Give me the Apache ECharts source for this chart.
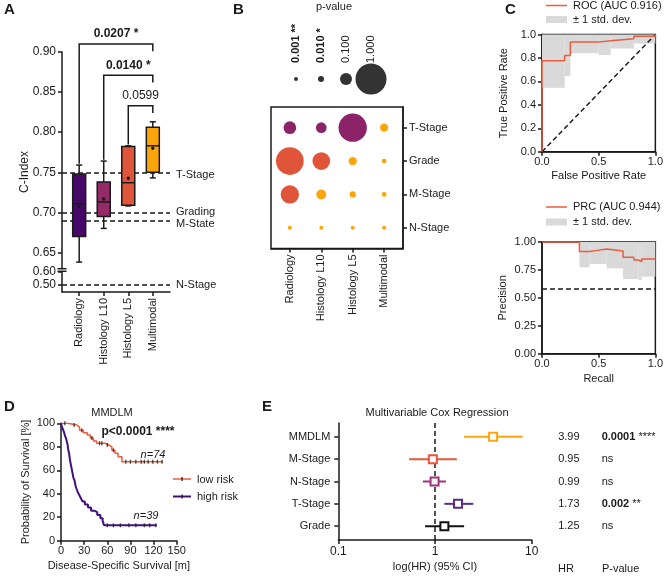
<!DOCTYPE html>
<html>
<head>
<meta charset="utf-8">
<script src="https://cdn.jsdelivr.net/npm/echarts@6/dist/echarts.min.js"></script>
<style>
  html, body { margin: 0; padding: 0; background: #fff; }
  #chart { width: 666px; height: 576px; }
</style>
</head>
<body>
<div id="chart"></div>
<script>
const FONT = '"Liberation Sans", Arial, sans-serif'
const INK = '#1a1a1a'

// --- A: C-index per model, box stats [min, q1, median, q3, max]
const models = ['Radiology', 'Histology L10', 'Histology L5', 'Multimodal']
const boxStats = [
  [0.638, 0.670, 0.711, 0.748, 0.759],
  [0.680, 0.695, 0.713, 0.738, 0.764],
  [0.708, 0.709, 0.737, 0.782, 0.783],
  [0.743, 0.750, 0.783, 0.806, 0.813],
]
const boxMeans = [0.7075, 0.7167, 0.7425, 0.780]
const clinicalNames = ['T-Stage', 'Grading', 'M-State', 'N-Stage']
const clinicalC = [0.747, 0.700, 0.6855, 0.502]
const bracketPairs = [[0, 3], [1, 3], [2, 3]]
const bracketP = ['0.0207 *', '0.0140 *', '0.0599']
const bracketLevels = [0.910, 0.871, 0.833]

// --- B: p-values, rows = clinical variable, cols = model
const clinicalRows = ['T-Stage', 'Grade', 'M-Stage', 'N-Stage']
const bubbleP = [
  [0.109, 0.061, 0.72, 0.024],
  [0.67, 0.20, 0.024, 0.0022],
  [0.215, 0.046, 0.011, 0.0022],
  [0.001, 0.001, 0.001, 0.001],
]
const legendP = [0.001, 0.01, 0.1, 1]
const legendLabels = ['0.001 **', '0.010 *', '0.100', '1.000']

// --- C: ROC / PRC
const rocFpr = [0, 0, 0.2, 0.25, 0.5, 0.605, 0.81, 1]
const rocTpr = [0, 0.776, 0.82, 0.935, 0.946, 0.963, 0.986, 1]
const rocBandX = [0, 0.2, 0.25, 0.5, 0.605, 0.81, 1]
const rocBandLo = [0.545, 0.645, 0.84, 0.825, 0.88, 0.923]
const rocBandHi = [1, 1, 1, 1, 1, 1]
const chanceLine = [[0, 0], [1, 1]]
const prcRecall = [0, 0.33, 0.42, 0.49, 0.57, 0.715, 0.81, 0.85, 0.88, 1]
const prcPrecision = [1, 0.916, 0.925, 0.937, 0.92, 0.863, 0.839, 0.824, 0.848, 0.848]
const prcBandX = [0.33, 0.42, 0.57, 0.715, 0.85, 0.88, 1]
const prcBandLo = [0.773, 0.803, 0.764, 0.669, 0.66, 0.69]
const prcBandHi = [1, 1, 1, 1, 1, 1]
const prcBaseline = 0.579

// --- D: Kaplan-Meier (months, %)
const lowT = [0, 8, 14, 20, 24, 29, 34, 38, 42, 46, 57, 62, 66, 70, 74, 79, 132]
const lowS = [100, 99.4, 98.6, 97, 94, 92, 90, 87.5, 85, 83, 81.5, 80, 77, 74.5, 71.5, 67.3, 67.3]
const lowCensor = [5, 17, 27, 40, 50, 53, 60, 68, 84, 90, 97, 104, 108, 113, 119, 125, 131]
const highT = [0, 1, 2.5, 4, 5, 6.5, 7.5, 8.5, 9.5, 10.5, 11.5, 13, 14.5, 16, 17.5, 19, 20.5, 22, 24, 26, 28, 31, 35, 39, 43, 47, 51, 54, 56, 124]
const highS = [100, 97.4, 94.9, 92.3, 89.7, 87.2, 84.6, 82, 77, 74.4, 69.2, 64.1, 59, 53.8, 51.3, 46.2, 43.6, 41, 38.5, 35.9, 33.3, 30.8, 28.2, 25.6, 24.4, 21.8, 19.2, 16.7, 13.1, 13.1]
const highCensor = [60, 68, 77, 88, 97, 108, 115, 123]

// --- E: multivariable Cox
const covariates = ['MMDLM', 'M-Stage', 'N-Stage', 'T-Stage', 'Grade']
const hr = [3.99, 0.95, 0.99, 1.73, 1.25]
const ciLow = [2.0, 0.54, 0.75, 1.25, 0.79]
const ciHigh = [8.07, 1.68, 1.30, 2.49, 2.0]
const pText = ['0.0001 ****', 'ns', 'ns', '0.002 **', 'ns']

// styles
const boxColors = ['#450a69', '#952a66', '#e0553a', '#fca50a']
const tone = { worse: '#8c2369', near: '#e0543a', better: '#fca50a' }
const bubbleScale = [4, 6, 12, 31] // diameter at p = 0.001, 0.01, 0.1, 1
const forestColors = ['#fca50a', '#e8553a', '#a2317f', '#5b2a8c', '#111111']
const red = '#ec5b3c'
const purple = '#40117a'
const band = '#d9d9d9'

function sizeFor(p) {
  const t = Math.min(3, Math.max(0, Math.log10(p) + 3))
  const i = Math.min(2, Math.floor(t))
  return bubbleScale[i] + (bubbleScale[i + 1] - bubbleScale[i]) * (t - i)
}

function toneFor(row, col) {
  const d = boxMeans[col] - clinicalC[row]
  if (d < 0) return tone.worse
  return d < 0.025 ? tone.near : tone.better
}

function survAt(T, S, t) {
  let s = S[0]
  for (let i = 0; i < T.length; i++) if (T[i] <= t) s = S[i]
  return s
}

function ax(o) {
  const base = {
    axisLine: { show: true, onZero: false, lineStyle: { color: INK, width: 1.5 } },
    axisTick: { show: true, length: 4, lineStyle: { color: INK, width: 1.5 } },
    axisLabel: { color: INK, fontSize: 11, fontFamily: FONT },
    splitLine: { show: false },
    nameTextStyle: { color: INK, fontSize: 11, fontFamily: FONT },
  }
  for (const k in o) {
    if (base[k] && typeof o[k] === 'object' && !Array.isArray(o[k])) base[k] = Object.assign({}, base[k], o[k])
    else base[k] = o[k]
  }
  return base
}

function txt(text, x, y, opt = {}) {
  return {
    type: 'text', x, y, rotation: opt.rot || 0, silent: true,
    style: {
      text, x: 0, y: 0, fill: INK,
      font: `${opt.style || 'normal'} ${opt.weight || 'normal'} ${opt.size || 11}px ${FONT}`,
      align: opt.align || 'left', verticalAlign: 'middle',
    },
  }
}

function renderBox(params, api) {
  const i = api.value(0)
  const lo = api.coord([i, api.value(1)])
  const q1 = api.coord([i, api.value(2)])
  const md = api.coord([i, api.value(3)])
  const q3 = api.coord([i, api.value(4)])
  const hi = api.coord([i, api.value(5)])
  const mn = api.coord([i, api.value(6)])
  const x = lo[0], half = 6.5, cap = 3
  const s = { stroke: INK, lineWidth: 1.5 }
  return {
    type: 'group',
    children: [
      { type: 'line', shape: { x1: x, y1: hi[1], x2: x, y2: q3[1] }, style: s },
      { type: 'line', shape: { x1: x - cap, y1: hi[1], x2: x + cap, y2: hi[1] }, style: s },
      { type: 'line', shape: { x1: x, y1: q1[1], x2: x, y2: lo[1] }, style: s },
      { type: 'line', shape: { x1: x - cap, y1: lo[1], x2: x + cap, y2: lo[1] }, style: s },
      { type: 'rect', shape: { x: x - half, y: q3[1], width: 2 * half, height: q1[1] - q3[1] },
        style: { fill: boxColors[i], stroke: INK, lineWidth: 1.5 } },
      { type: 'line', shape: { x1: x - half, y1: md[1], x2: x + half, y2: md[1] }, style: s },
      { type: 'circle', shape: { cx: x, cy: mn[1], r: 1.7 }, style: { fill: INK } },
    ],
  }
}

function renderBracket(params, api) {
  const k = params.dataIndex
  const [a, b] = bracketPairs[k]
  const top = bracketLevels[k]
  const pL = api.coord([a, boxStats[a][4] + 0.0015])
  const p1 = api.coord([a, top])
  const p2 = api.coord([b, top])
  const pR = api.coord([b, top - 0.009])
  const bold = bracketP[k].indexOf('*') >= 0
  return {
    type: 'group',
    children: [
      { type: 'polyline', shape: { points: [pL, p1, p2, pR] }, style: { stroke: INK, lineWidth: 1.5, fill: null } },
      { type: 'text', style: {
        text: bracketP[k], x: (p1[0] + p2[0]) / 2, y: p1[1] - 4,
        align: 'center', verticalAlign: 'bottom', fill: INK,
        font: `${bold ? 'bold' : 'normal'} 12px ${FONT}`,
      } },
    ],
  }
}

function renderBand(params, api) {
  const a = api.coord([api.value(0), api.value(3)])
  const b = api.coord([api.value(1), api.value(2)])
  return { type: 'rect', shape: { x: a[0], y: a[1], width: b[0] - a[0], height: b[1] - a[1] }, style: { fill: band } }
}

function renderForest(params, api) {
  const r = api.value(1)
  const c = api.coord([api.value(0), r])
  const l = api.coord([api.value(2), r])
  const h = api.coord([api.value(3), r])
  const col = forestColors[params.dataIndex]
  return {
    type: 'group',
    children: [
      { type: 'line', shape: { x1: l[0], y1: c[1], x2: h[0], y2: c[1] }, style: { stroke: col, lineWidth: 2 } },
      { type: 'rect', shape: { x: c[0] - 4, y: c[1] - 4, width: 8, height: 8 }, style: { fill: '#fff', stroke: col, lineWidth: 2 } },
    ],
  }
}

const dashed = { color: INK, type: [5, 3], width: 1.5 }
const refLabel = (vals) => ({
  type: 'value', position: 'right', axisLine: { show: false }, axisTick: { show: false },
  axisLabel: { customValues: vals, margin: 6, align: 'left',
    formatter: v => clinicalNames[clinicalC.indexOf(v)] },
})

const option = {
  animation: false,
  textStyle: { fontFamily: FONT },
  grid: [
    { left: 62, top: 52, width: 108, height: 216.5 },
    { left: 62, top: 271.5, width: 108, height: 20.5 },
    { left: 283.5, top: 67, width: 100, height: 24 },
    { left: 271, top: 107, width: 132, height: 141.5, show: true, borderColor: INK, borderWidth: 1.5 },
    { left: 542, top: 34.5, width: 115.5, height: 117.3, show: true, borderColor: INK, borderWidth: 1.5 },
    { left: 542, top: 242, width: 115.5, height: 111.7, show: true, borderColor: INK, borderWidth: 1.5 },
    { left: 61, top: 423.3, width: 115.7, height: 117.4 },
    { left: 338.3, top: 423, width: 193.4, height: 117 },
  ],
  xAxis: [
    ax({ gridIndex: 0, type: 'value', min: -0.7, max: 3.7, show: false }),
    ax({ gridIndex: 1, type: 'value', min: -0.7, max: 3.7,
      axisTick: { customValues: [0, 1, 2, 3] },
      axisLabel: { customValues: [0, 1, 2, 3], rotate: 90, margin: 6, formatter: v => models[v] } }),
    ax({ gridIndex: 2, type: 'category', data: legendLabels, position: 'top',
      axisLine: { show: false }, axisTick: { show: false },
      axisLabel: { rotate: -90, margin: 4, interval: 0,
        formatter: (v, i) => legendP[i] < 0.05 ? `{b|${v}}` : v,
        rich: { b: { fontWeight: 'bold', fontSize: 11, fontFamily: FONT, color: INK } } } }),
    ax({ gridIndex: 3, type: 'value', min: -0.6, max: 3.6,
      axisTick: { customValues: [0, 1, 2, 3] },
      axisLabel: { customValues: [0, 1, 2, 3], rotate: 90, margin: 6, formatter: v => models[v] } }),
    ax({ gridIndex: 4, type: 'value', min: 0, max: 1, interval: 0.5,
      name: 'False Positive Rate', nameLocation: 'middle', nameGap: 19,
      axisLabel: { formatter: v => v.toFixed(1), margin: 5 } }),
    ax({ gridIndex: 5, type: 'value', min: 0, max: 1, interval: 0.5,
      name: 'Recall', nameLocation: 'middle', nameGap: 20,
      axisLabel: { formatter: v => v.toFixed(1), margin: 5 } }),
    ax({ gridIndex: 6, type: 'value', min: 0, max: 150, interval: 30,
      name: 'Disease-Specific Survival [m]', nameLocation: 'middle', nameGap: 20,
      axisLabel: { margin: 5 } }),
    ax({ gridIndex: 7, type: 'log', logBase: 10, min: 0.1, max: 10,
      name: 'log(HR) (95% CI)', nameLocation: 'middle', nameGap: 21,
      axisLabel: { fontSize: 12, margin: 6 } }),
  ],
  yAxis: [
    ax({ gridIndex: 0, type: 'value', min: 0.63, max: 0.90,
      axisTick: { customValues: [0.65, 0.70, 0.75, 0.80, 0.85, 0.90] },
      axisLabel: { customValues: [0.65, 0.70, 0.75, 0.80, 0.85, 0.90], fontSize: 12, margin: 6, formatter: v => v.toFixed(2) } }),
    ax({ gridIndex: 1, type: 'value', min: 0.448, max: 0.60,
      axisTick: { customValues: [0.5, 0.6] },
      axisLabel: { customValues: [0.5, 0.6], fontSize: 12, margin: 6, formatter: v => v.toFixed(2) } }),
    ax({ gridIndex: 2, type: 'value', min: 0, max: 2, show: false }),
    ax({ gridIndex: 3, type: 'value', min: -0.62, max: 3.62, inverse: true, position: 'right',
      axisTick: { customValues: [0, 1, 2, 3] },
      axisLabel: { customValues: [0, 1, 2, 3], margin: 6, formatter: v => clinicalRows[v] } }),
    ax({ gridIndex: 4, type: 'value', min: 0, max: 1, interval: 0.2,
      name: 'True Positive Rate', nameLocation: 'middle', nameGap: 33,
      axisLabel: { formatter: v => v.toFixed(1), margin: 6 } }),
    ax({ gridIndex: 5, type: 'value', min: 0, max: 1, interval: 0.25,
      name: 'Precision', nameLocation: 'middle', nameGap: 34,
      axisLabel: { formatter: v => v.toFixed(2), margin: 6 } }),
    ax({ gridIndex: 6, type: 'value', min: 0, max: 100, interval: 20,
      name: 'Probability of Survival [%]', nameLocation: 'middle', nameGap: 30,
      axisLabel: { margin: 6 } }),
    ax({ gridIndex: 7, type: 'value', min: -0.62, max: 4.62, inverse: true,
      axisTick: { customValues: [0, 1, 2, 3, 4] },
      axisLabel: { customValues: [0, 1, 2, 3, 4], margin: 8, formatter: v => covariates[v] } }),
    ax({ gridIndex: 7, type: 'value', min: -0.62, max: 4.62, inverse: true, position: 'right',
      axisLine: { show: false }, axisTick: { show: false },
      axisLabel: { customValues: [0, 1, 2, 3, 4], margin: 26.5, align: 'left', formatter: v => hr[v].toFixed(2) } }),
    ax({ gridIndex: 7, type: 'value', min: -0.62, max: 4.62, inverse: true, position: 'right',
      axisLine: { show: false }, axisTick: { show: false },
      axisLabel: { customValues: [0, 1, 2, 3, 4], margin: 70, align: 'left',
        formatter: v => {
          const t = pText[v]
          if (t === 'ns') return t
          const [num, stars] = t.split(' ')
          return `{b|${num}} {s|${stars}}`
        },
        rich: {
          b: { fontWeight: 'bold', fontSize: 11, fontFamily: FONT, color: INK },
          s: { fontSize: 11, fontFamily: FONT, color: INK },
        } } }),
    // reference-line labels for A (right side)
    ax(Object.assign({ gridIndex: 0, min: 0.63, max: 0.90 }, refLabel(clinicalC.slice(0, 3)))),
    ax(Object.assign({ gridIndex: 1, min: 0.448, max: 0.60 }, refLabel([clinicalC[3]]))),
  ],
  series: [
    // A
    { type: 'line', xAxisIndex: 0, yAxisIndex: 0, data: [],
      markLine: { silent: true, symbol: 'none', lineStyle: dashed, label: { show: false },
        data: clinicalC.slice(0, 3).map(v => ({ yAxis: v })) } },
    { type: 'line', xAxisIndex: 1, yAxisIndex: 1, data: [],
      markLine: { silent: true, symbol: 'none', lineStyle: dashed, label: { show: false },
        data: [{ yAxis: clinicalC[3] }] } },
    { type: 'custom', xAxisIndex: 0, yAxisIndex: 0, z: 5, renderItem: renderBox,
      data: models.map((m, i) => [i, ...boxStats[i], boxMeans[i]]) },
    { type: 'custom', xAxisIndex: 0, yAxisIndex: 0, z: 5, clip: false, renderItem: renderBracket,
      encode: { x: [0, 1], y: 2 },
      data: bracketPairs.map((p, k) => [p[0], p[1], bracketLevels[k]]) },
    // B
    { type: 'scatter', xAxisIndex: 2, yAxisIndex: 2, itemStyle: { color: '#000' },
      symbolSize: (v, p) => sizeFor(legendP[p.dataIndex]),
      data: legendP.map((p, i) => [i, 1]) },
    { type: 'scatter', xAxisIndex: 3, yAxisIndex: 3,
      symbolSize: v => sizeFor(v[2]),
      data: bubbleP.flatMap((row, r) => row.map((p, c) => ({ value: [c, r, p], itemStyle: { color: toneFor(r, c), opacity: 1 } }))) },
    // C: ROC
    { type: 'custom', xAxisIndex: 4, yAxisIndex: 4, z: 1, renderItem: renderBand,
      encode: { x: [0, 1], y: [2, 3] },
      data: rocBandLo.map((lo, i) => [rocBandX[i], rocBandX[i + 1], lo, rocBandHi[i]]) },
    { type: 'line', xAxisIndex: 4, yAxisIndex: 4, z: 3, data: chanceLine, showSymbol: false,
      lineStyle: dashed },
    { type: 'line', xAxisIndex: 4, yAxisIndex: 4, z: 4, step: 'end', showSymbol: false,
      lineStyle: { color: red, width: 1.5 },
      data: rocFpr.map((f, i) => [f, rocTpr[i]]) },
    // C: PRC
    { type: 'custom', xAxisIndex: 5, yAxisIndex: 5, z: 1, renderItem: renderBand,
      encode: { x: [0, 1], y: [2, 3] },
      data: prcBandLo.map((lo, i) => [prcBandX[i], prcBandX[i + 1], lo, prcBandHi[i]]) },
    { type: 'line', xAxisIndex: 5, yAxisIndex: 5, z: 4, step: 'end', showSymbol: false,
      lineStyle: { color: red, width: 1.5 },
      data: prcRecall.map((r, i) => [r, prcPrecision[i]]),
      markLine: { silent: true, symbol: 'none', lineStyle: dashed, label: { show: false }, data: [{ yAxis: prcBaseline }] } },
    // D
    { type: 'line', xAxisIndex: 6, yAxisIndex: 6, step: 'end', showSymbol: false, z: 3,
      lineStyle: { color: red, width: 1.5 }, data: lowT.map((t, i) => [t, lowS[i]]) },
    { type: 'line', xAxisIndex: 6, yAxisIndex: 6, step: 'end', showSymbol: false, z: 3,
      lineStyle: { color: purple, width: 2 }, data: highT.map((t, i) => [t, highS[i]]) },
    { type: 'scatter', xAxisIndex: 6, yAxisIndex: 6, z: 4, symbol: 'rect', symbolSize: [1.3, 4],
      itemStyle: { color: INK }, data: lowCensor.map(t => [t, survAt(lowT, lowS, t)]) },
    { type: 'scatter', xAxisIndex: 6, yAxisIndex: 6, z: 4, symbol: 'rect', symbolSize: [1.3, 4],
      itemStyle: { color: INK }, data: highCensor.map(t => [t, survAt(highT, highS, t)]) },
    // E
    { type: 'line', xAxisIndex: 7, yAxisIndex: 7, data: [],
      markLine: { silent: true, symbol: 'none', lineStyle: dashed, label: { show: false }, data: [{ xAxis: 1 }] } },
    { type: 'custom', xAxisIndex: 7, yAxisIndex: 7, z: 5, renderItem: renderForest,
      encode: { x: [0, 2, 3], y: 1 },
      data: covariates.map((c, i) => [hr[i], i, ciLow[i], ciHigh[i]]) },
  ],
  graphic: [
    txt('A', 4, 10, { size: 15, weight: 'bold' }),
    txt('B', 233, 10, { size: 15, weight: 'bold' }),
    txt('C', 505, 10, { size: 15, weight: 'bold' }),
    txt('D', 4, 407, { size: 15, weight: 'bold' }),
    txt('E', 262, 407, { size: 15, weight: 'bold' }),
    // A
    txt('C-Index', 25, 172, { rot: Math.PI / 2, align: 'center', size: 12 }),
    { type: 'line', shape: { x1: 57.5, y1: 268.7, x2: 66.5, y2: 268.7 }, style: { stroke: INK, lineWidth: 1.5 } },
    { type: 'line', shape: { x1: 57.5, y1: 271.3, x2: 66.5, y2: 271.3 }, style: { stroke: INK, lineWidth: 1.5 } },
    // B
    txt('p-value', 334, 7, { align: 'center' }),
    // C legends
    { type: 'line', shape: { x1: 546, y1: 5.5, x2: 567, y2: 5.5 }, style: { stroke: red, lineWidth: 1.5 } },
    txt('ROC (AUC 0.916)', 573, 5.5),
    { type: 'rect', shape: { x: 546, y: 16, width: 21, height: 7 }, style: { fill: band } },
    txt('± 1 std. dev.', 573, 19.5),
    { type: 'line', shape: { x1: 546, y1: 207, x2: 567, y2: 207 }, style: { stroke: red, lineWidth: 1.5 } },
    txt('PRC (AUC 0.944)', 573, 207),
    { type: 'rect', shape: { x: 546, y: 218.5, width: 21, height: 7 }, style: { fill: band } },
    txt('± 1 std. dev.', 573, 222),
    // D
    txt('MMDLM', 112, 413, { align: 'center' }),
    txt('p<0.0001 ****', 138, 432, { align: 'center', weight: 'bold', size: 12 }),
    txt('n=74', 153, 455, { align: 'center', style: 'italic' }),
    txt('n=39', 146, 516, { align: 'center', style: 'italic' }),
    { type: 'line', shape: { x1: 173, y1: 479, x2: 191, y2: 479 }, style: { stroke: red, lineWidth: 1.5 } },
    { type: 'rect', shape: { x: 181.4, y: 477, width: 1.3, height: 4 }, style: { fill: INK } },
    txt('low risk', 197, 480),
    { type: 'line', shape: { x1: 173, y1: 496.5, x2: 191, y2: 496.5 }, style: { stroke: purple, lineWidth: 2 } },
    { type: 'rect', shape: { x: 181.4, y: 494.5, width: 1.3, height: 4 }, style: { fill: INK } },
    txt('high risk', 197, 497),
    // E
    txt('Multivariable Cox Regression', 437, 413, { align: 'center' }),
    txt('HR', 558, 569),
    txt('P-value', 602, 569),
  ],
}

const chart = echarts.init(document.getElementById('chart'), null, { renderer: 'canvas' })
chart.setOption(option)
</script>
</body>
</html>
